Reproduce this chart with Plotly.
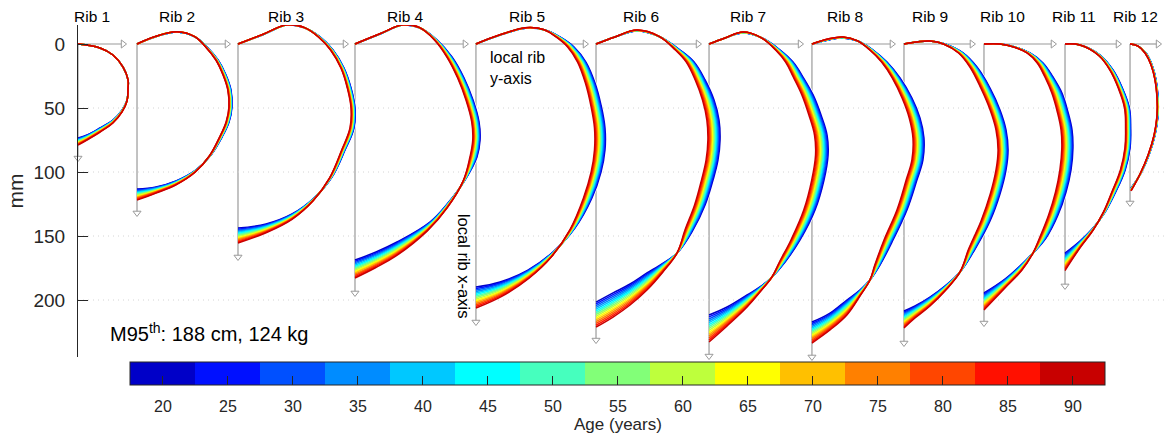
import plotly.graph_objects as go

# ---------------------------------------------------------------- data
AGES = [20, 25, 30, 35, 40, 45, 50, 55, 60, 65, 70, 75, 80, 85, 90]
AGE_COLORS = ["#0000C8", "#0010FF", "#0050FF", "#008CFF", "#00C8FF",
              "#00FFFF", "#46FFBE", "#82FF78", "#BEFF3C", "#FFFF00",
              "#FFC000", "#FF8000", "#FF4600", "#FF1000", "#C80000"]
RIB_NAMES = ["Rib 1", "Rib 2", "Rib 3", "Rib 4", "Rib 5", "Rib 6",
             "Rib 7", "Rib 8", "Rib 9", "Rib 10", "Rib 11", "Rib 12"]

# horizontal placement of each rib's local origin (mm along the page)
RIB_ORIGIN = [0.0, 46.1, 125.0, 216.4, 310.9, 404.7,
              493.0, 573.4, 645.3, 707.8, 771.1, 821.9]
# lengths of the drawn local axes (mm)
RIB_Y_AXIS_LEN = [35.2, 70.3, 83.6, 85.9, 85.2, 79.7,
                  71.1, 62.5, 53.1, 53.9, 41.4, 21.9]
RIB_X_AXIS_LEN = [89.1, 132.0, 166.4, 194.5, 217.2, 231.3,
                  243.8, 244.5, 233.6, 218.0, 189.0, 124.2]

# rib centreline in local rib coordinates (mm): Y = local y, X = local x
# at age 20 and at age 90
Y20 = [
    [0, 17.2, 27.3, 35.2, 39.1, 39.1, 38.3, 34.4, 27.3, 17.2, 7.0, 0],
    [0, 14.1, 31.3, 45.3, 54.7, 63.3, 69.5, 73.4, 74.2, 71.9, 66.4, 57.8, 46.1, 30.5, 14.8, 0],
    [0, 18.8, 38.3, 52.3, 64.1, 74.2, 82.8, 88.3, 91.4, 90.6, 83.6, 73.4, 59.4, 42.2, 21.9, 0],
    [0, 19.5, 37.5, 50.8, 64.1, 75.8, 85.2, 92.2, 96.9, 97.7, 95.3, 85.9, 72.7, 58.6, 32.8, 16.4, 0],
    [0, 18.8, 39.8, 53.9, 65.6, 76.6, 85.9, 93.0, 97.7, 100.8, 100.8, 97.7, 90.6, 77.3, 60.2, 40.6, 18.8, 0],
    [0, 14.8, 32.0, 50.0, 65.6, 76.6, 85.2, 92.2, 96.1, 96.9, 95.3, 91.4, 85.2, 75.8, 63.3, 50.0, 39.8, 26.6, 13.3, 0],
    [0, 12.5, 26.6, 41.4, 55.5, 65.6, 73.4, 81.3, 87.5, 92.2, 93.0, 89.8, 82.8, 71.1, 59.4, 49.2, 39.8, 29.7, 14.1, 0],
    [0, 12.5, 24.2, 35.9, 47.7, 58.6, 68.8, 78.1, 84.4, 87.5, 86.7, 82.0, 74.2, 63.3, 53.1, 45.3, 37.5, 27.3, 14.1, 0],
    [0, 10.2, 20.3, 32.0, 46.1, 57.0, 67.2, 75.0, 79.7, 81.3, 79.7, 75.0, 67.2, 55.5, 43.8, 32.0, 20.3, 8.6, 0],
    [0, 12.5, 24.2, 35.9, 46.1, 53.9, 60.9, 65.6, 68.8, 69.5, 68.0, 64.1, 57.8, 48.4, 38.3, 28.1, 16.4, 0],
    [0, 11.7, 27.3, 37.5, 44.8, 50.3, 51.3, 50.8, 47.0, 39.6, 31.3, 21.9, 11.7, 0],
    [0, 6.3, 12.5, 17.2, 20.3, 21.9, 21.9, 19.5, 14.8, 8.6, 0.8],
]
X20 = [
    [0, 3.1, 8.6, 18.0, 28.1, 34.4, 43.8, 51.6, 59.4, 65.6, 71.1, 73.4],
    [0, -5.5, -9.4, -5.5, 2.3, 12.5, 24.2, 35.9, 49.2, 60.9, 72.7, 86.7, 98.4, 107.0, 111.7, 113.3],
    [0, -7.0, -14.8, -12.5, -5.5, 4.7, 18.8, 34.4, 50.0, 65.6, 82.8, 103.9, 120.3, 132.8, 140.6, 143.8],
    [0, -7.8, -14.8, -12.5, -3.1, 10.2, 26.6, 43.8, 60.9, 75.0, 88.3, 106.3, 124.2, 139.1, 154.7, 162.5, 168.8],
    [0, -7.0, -12.5, -10.9, -5.5, 2.3, 14.1, 30.5, 47.7, 65.6, 82.8, 100.0, 120.3, 143.8, 162.5, 176.6, 185.9, 189.8],
    [0, -5.5, -10.2, -5.5, 4.7, 14.1, 28.1, 43.8, 59.4, 75.0, 90.6, 106.3, 125.8, 145.3, 163.3, 172.7, 178.9, 187.5, 194.5, 201.6],
    [0, -4.7, -8.6, -4.7, 4.7, 14.1, 25.8, 39.8, 55.5, 71.1, 86.7, 106.3, 129.7, 153.1, 170.3, 182.0, 189.8, 196.1, 205.5, 211.7],
    [0, -3.1, -4.7, -2.3, 4.7, 14.1, 26.6, 42.2, 57.8, 73.4, 90.6, 106.3, 129.7, 153.1, 172.7, 184.4, 192.2, 200.0, 210.2, 217.2],
    [0, -1.6, -2.3, 0, 7.0, 18.0, 34.4, 51.6, 67.2, 82.8, 98.4, 117.2, 138.3, 160.2, 178.1, 189.1, 197.7, 204.7, 208.6],
    [0, 0, 2.3, 7.0, 14.8, 25.8, 38.3, 53.1, 67.2, 81.3, 98.4, 115.6, 133.6, 151.6, 163.3, 173.4, 183.6, 194.5],
    [0, 0.8, 8.6, 20.3, 34.4, 50.0, 65.6, 81.3, 98.4, 115.6, 131.3, 143.8, 153.9, 163.3],
    [0, 1.6, 7.0, 16.4, 28.1, 42.2, 55.5, 71.1, 86.7, 100.8, 112.5],
]
Y90 = [
    [0, 17.2, 27.3, 35.2, 39.1, 39.1, 38.3, 34.4, 27.3, 17.2, 7.0, 0],
    [0, 14.1, 31.3, 45.0, 53.6, 61.6, 67.2, 70.9, 71.8, 69.6, 64.5, 56.5, 45.5, 30.5, 14.8, 0],
    [0, 18.8, 38.3, 52.0, 62.8, 72.3, 80.4, 85.4, 88.3, 87.5, 81.0, 71.5, 58.5, 42.2, 21.9, 0],
    [0, 19.5, 37.5, 50.5, 62.1, 71.8, 80.2, 86.7, 91.2, 92.0, 89.8, 84.5, 72.0, 56.5, 31.5, 15.6, 0],
    [0, 18.8, 39.8, 53.3, 62.6, 71.6, 79.4, 85.5, 89.7, 92.6, 92.6, 90.0, 84.0, 73.5, 58.8, 41.5, 20.5, 0],
    [0, 14.8, 32.0, 49.2, 62.0, 70.5, 77.5, 83.2, 86.6, 87.4, 86.0, 82.4, 77.0, 69.5, 63.3, 52.3, 39.8, 26.6, 13.3, 0],
    [0, 12.5, 26.6, 40.6, 52.0, 59.8, 65.8, 72.5, 78.0, 82.4, 83.2, 80.2, 74.0, 64.0, 55.0, 49.2, 39.8, 29.7, 14.1, 0],
    [0, 12.5, 24.2, 35.5, 45.2, 54.4, 62.8, 70.4, 76.0, 78.9, 78.1, 73.6, 66.4, 56.3, 49.1, 45.3, 37.5, 27.3, 14.1, 0],
    [0, 10.2, 20.3, 31.3, 42.6, 51.5, 60.0, 67.3, 71.9, 73.5, 71.9, 67.4, 60.2, 50.5, 43.8, 32.0, 20.3, 8.6, 0],
    [0, 12.5, 23.8, 33.6, 41.6, 47.6, 53.0, 57.3, 60.2, 60.8, 59.3, 55.9, 50.5, 43.4, 38.3, 29.7, 16.4, 0],
    [0, 11.7, 26.3, 35.3, 41.6, 46.5, 47.3, 46.8, 43.3, 36.6, 30.0, 21.9, 11.2, 0],
    [0, 6.3, 11.7, 16.4, 19.5, 21.1, 21.1, 18.8, 14.1, 7.8, 0.8],
]
X90 = [
    [0, 3.1, 8.6, 18.0, 28.1, 34.8, 44.5, 53.1, 61.7, 68.8, 75.0, 79.0],
    [0, -5.8, -9.6, -5.8, 2.3, 12.5, 24.2, 35.9, 49.2, 60.9, 72.7, 87.5, 100.0, 110.0, 116.5, 122.0],
    [0, -7.3, -15.0, -12.8, -5.5, 4.7, 18.8, 34.4, 50.0, 65.6, 82.8, 104.7, 122.7, 137.0, 147.5, 155.5],
    [0, -8.0, -15.0, -12.8, -3.1, 10.2, 26.6, 43.8, 60.9, 75.0, 88.3, 107.0, 128.0, 146.0, 166.0, 175.0, 182.8],
    [0, -7.2, -12.8, -11.1, -5.5, 2.3, 14.1, 30.5, 47.7, 65.6, 82.8, 100.0, 120.3, 145.0, 166.5, 183.0, 197.0, 206.3],
    [0, -5.5, -10.9, -6.0, 4.7, 14.1, 28.1, 43.8, 59.4, 75.0, 90.6, 106.3, 125.8, 145.3, 163.3, 178.1, 192.2, 203.9, 213.3, 221.1],
    [0, -4.7, -9.4, -5.0, 4.7, 14.1, 25.8, 39.8, 55.5, 71.1, 86.7, 106.3, 129.7, 153.1, 170.3, 182.0, 193.8, 205.5, 220.3, 232.8],
    [0, -3.9, -5.5, -2.5, 4.7, 14.1, 26.6, 42.2, 57.8, 73.4, 90.6, 106.3, 129.7, 153.1, 172.7, 184.4, 196.9, 211.7, 223.4, 233.6],
    [0, -1.6, -2.3, 0.2, 7.0, 18.0, 34.4, 51.6, 67.2, 82.8, 98.4, 117.2, 138.3, 160.2, 178.1, 193.0, 204.7, 214.1, 221.9],
    [0, 0, 2.5, 7.0, 14.8, 25.8, 38.3, 53.1, 67.2, 81.3, 98.4, 115.6, 133.6, 151.6, 163.3, 176.6, 190.6, 207.8],
    [0, 0.8, 9.0, 20.8, 34.4, 50.0, 65.6, 81.3, 98.4, 115.6, 131.3, 145.5, 160.0, 177.0],
    [0, 1.6, 7.0, 16.4, 28.1, 42.2, 55.5, 71.1, 86.7, 101.6, 114.8],
]

Y_TICKS = [0, 50, 100, 150, 200]

# ---------------------------------------------------------------- style
FONT = "Liberation Sans, Arial, Helvetica, sans-serif"
TEXT = "#262626"
ARROW = "#9a9a9a"
GRID = "#d4d4d4"
PX_PER_MM = 1.28
PLOT_L, PLOT_T, PLOT_W, PLOT_H = 78, 25, 1088, 332
X_RANGE = [0, PLOT_W / PX_PER_MM]
Y_RANGE = [(PLOT_H - 19) / PX_PER_MM, -19 / PX_PER_MM]
CBAR_LEFT, CBAR_RIGHT, CBAR_TOP, CBAR_THICK = 130, 1105, 362, 23


def rib_curve(k, age):
    """Rib k centreline (page coordinates) at a given age, linear in age."""
    f = (age - AGES[0]) / (AGES[-1] - AGES[0])
    xs = [RIB_ORIGIN[k] + a + f * (b - a) for a, b in zip(Y20[k], Y90[k])]
    ys = [a + f * (b - a) for a, b in zip(X20[k], X90[k])]
    return xs, ys


def paper_x(px):
    return (px - PLOT_L) / PLOT_W


def paper_y(py):
    return (PLOT_T + PLOT_H - py) / PLOT_H


fig = go.Figure()

# white rib areas hide the local axes of the neighbouring rib; drawn
# from the last rib to the first, each followed by its own local axes
for k in reversed(range(len(RIB_NAMES))):
    xs, ys = rib_curve(k, AGES[0])
    fig.add_trace(go.Scatter(
        x=xs, y=ys, mode="lines", fill="toself", fillcolor="white",
        line=dict(color="white", width=3, shape="spline", smoothing=1.1),
        hoverinfo="skip", showlegend=False))
    ox = RIB_ORIGIN[k]
    fig.add_trace(go.Scatter(
        x=[ox, ox + RIB_Y_AXIS_LEN[k], None, ox, ox],
        y=[0, 0, None, 0, RIB_X_AXIS_LEN[k]],
        mode="lines", line=dict(color=ARROW, width=1.2),
        hoverinfo="skip", showlegend=False))
    fig.add_trace(go.Scatter(
        x=[ox + RIB_Y_AXIS_LEN[k], ox], y=[0, RIB_X_AXIS_LEN[k]],
        mode="markers", cliponaxis=False,
        marker=dict(symbol=["triangle-right", "triangle-down"], size=7,
                    color="white", line=dict(color=ARROW, width=1)),
        hoverinfo="skip", showlegend=False))

# dotted horizontal grid
gx, gy = [], []
for t in Y_TICKS[1:]:
    gx += [X_RANGE[0], X_RANGE[1], None]
    gy += [t, t, None]
fig.add_trace(go.Scatter(x=gx, y=gy, mode="lines",
                         line=dict(color=GRID, width=1, dash="1px,4px"),
                         hoverinfo="skip", showlegend=False))

# one centreline per rib and age, youngest first
for k in range(len(RIB_NAMES)):
    for age, col in zip(AGES, AGE_COLORS):
        xs, ys = rib_curve(k, age)
        fig.add_trace(go.Scatter(
            x=xs, y=ys, mode="lines",
            line=dict(color=col, width=1.5, shape="spline", smoothing=1.1),
            name=f"{RIB_NAMES[k]}, {age} y", showlegend=False))

# discrete age colour bar
lo, hi = AGES[0] - 2.5, AGES[-1] + 2.5
n = len(AGES)
scale = []
for i, c in enumerate(AGE_COLORS):
    scale += [[i / n, c], [(i + 1) / n, c]]
fig.add_trace(go.Scatter(
    x=[None] * n, y=[None] * n, mode="markers", showlegend=False,
    marker=dict(color=AGES, colorscale=scale, cmin=lo, cmax=hi,
                showscale=True,
                colorbar=dict(
                    orientation="h", lenmode="pixels",
                    len=CBAR_RIGHT - CBAR_LEFT,
                    thicknessmode="pixels", thickness=CBAR_THICK,
                    x=paper_x((CBAR_LEFT + CBAR_RIGHT) / 2), xanchor="center",
                    y=paper_y(CBAR_TOP), yanchor="top", xpad=0, ypad=0,
                    outlinewidth=1, outlinecolor=TEXT,
                    tickvals=AGES, ticks="inside", ticklen=9,
                    tickcolor=TEXT, tickwidth=1, showticklabels=False))))

# text
ann = []
label_x = [10.9, 77.3, 162.5, 255.5, 350.8, 439.8,
           523.4, 599.2, 665.6, 721.9, 778.1, 825.8]
for name, lx in zip(RIB_NAMES, label_x):
    ann.append(dict(text=name, x=lx, xref="x", y=paper_y(17),
                    yref="paper", showarrow=False, xanchor="center",
                    yanchor="middle",
                    font=dict(family=FONT, size=15.5, color="black")))
cb_scale = (CBAR_RIGHT - CBAR_LEFT) / (hi - lo)
for age in AGES:
    ann.append(dict(text=str(age), x=paper_x(CBAR_LEFT + (age - lo) * cb_scale),
                    xref="paper", y=paper_y(406), yref="paper",
                    showarrow=False, xanchor="center", yanchor="middle",
                    font=dict(family=FONT, size=16, color=TEXT)))
ann.append(dict(text="Age (years)", x=paper_x((CBAR_LEFT + CBAR_RIGHT) / 2),
                xref="paper", y=paper_y(425), yref="paper",
                showarrow=False, xanchor="center", yanchor="middle",
                font=dict(family=FONT, size=17, color=TEXT)))
ann.append(dict(text="M95<sup>th</sup>: 188 cm, 124 kg", x=23.4, y=225,
                xref="x", yref="y", xanchor="left", yanchor="middle",
                showarrow=False,
                font=dict(family=FONT, size=20, color="black")))
ann.append(dict(text="local rib<br>y-axis", x=320.3, y=19.1,
                xref="x", yref="y", xanchor="left", yanchor="middle",
                align="left", showarrow=False,
                font=dict(family=FONT, size=16, color="black")))
ann.append(dict(text="local rib x-axis", x=301.6, y=173.4,
                xref="x", yref="y", xanchor="center", yanchor="middle",
                textangle=90, showarrow=False,
                font=dict(family=FONT, size=16.5, color="black")))

fig.update_layout(
    width=1166, height=434,
    margin=dict(l=PLOT_L, r=1166 - PLOT_L - PLOT_W, t=PLOT_T,
                b=434 - PLOT_T - PLOT_H),
    paper_bgcolor="white", plot_bgcolor="white",
    font=dict(family=FONT, color=TEXT),
    showlegend=False,
    annotations=ann,
    xaxis=dict(range=X_RANGE, visible=False, fixedrange=True),
    yaxis=dict(range=Y_RANGE, tickvals=Y_TICKS, ticks="inside",
               ticklen=10, tickwidth=1, tickcolor=TEXT,
               showline=True, linecolor=TEXT, linewidth=1,
               showgrid=False, zeroline=False, fixedrange=True,
               ticklabelstandoff=8,
               tickfont=dict(family=FONT, size=19, color=TEXT),
               title=dict(text="mm", standoff=4,
                          font=dict(family=FONT, size=21, color=TEXT))),
)

fig.write_html("out.html")
